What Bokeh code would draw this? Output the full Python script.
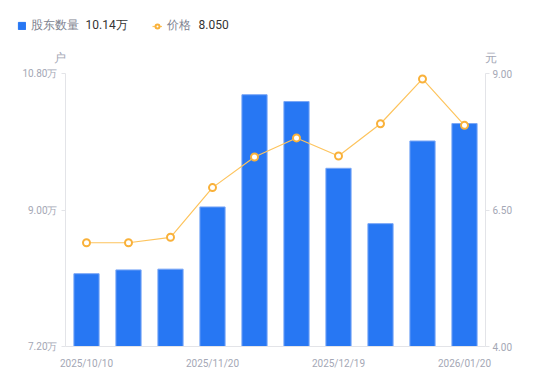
from bokeh.plotting import figure
from bokeh.layouts import column
from bokeh.models import (Range1d, LinearAxis, FixedTicker, PrintfTickFormatter,
                          Legend, LegendItem, Label, ColumnDataSource)
from bokeh.embed import file_html
from bokeh.resources import INLINE

# ---- data ----
dates = ["2025/10/10", "2025/10/20", "2025/10/31", "2025/11/20", "2025/11/28",
         "2025/12/10", "2025/12/19", "2025/12/31", "2026/01/09", "2026/01/20"]
holders = [8.16, 8.21, 8.22, 9.04, 10.52, 10.43, 9.55, 8.82, 9.91, 10.14]   # 万户
price = [5.90, 5.90, 6.00, 6.91, 7.47, 7.82, 7.49, 8.08, 8.90, 8.05]        # 元
tick_idx = [0, 3, 6, 9]
left_ticks = [7.2, 9.0, 10.8]
right_ticks = [4.0, 6.5, 9.0]
holders_name = "股东数量"
price_name = "价格"
holders_last = "10.14万"
price_last = "8.050"
left_unit = "户"
right_unit = "元"

FONT = "Roboto"
AX_COLOR = "#e3e4e8"
LBL_COLOR = "#a4a7b5"
BAR_FILL = "#2777f3"
BAR_LINE = "#79a6f6"
LINE_COLOR = "#fdc45e"
PT_COLOR = "#f9b13a"

W = 550
TOP_H = 65

# ---------------- header strip (legend + unit labels) ----------------
top = figure(width=W, height=TOP_H, output_backend="svg", toolbar_location=None,
             x_range=Range1d(0, 1), y_range=Range1d(0, 1),
             min_border=0, x_axis_location=None, y_axis_location=None)
top.frame_align = False
top.outline_line_color = None
top.xgrid.visible = False
top.ygrid.visible = False

# legend swatch renderers: one point placed far outside the header's visible range
far = ColumnDataSource(dict(x=[100], y=[100]))
lg_bar = top.vbar(x="x", top="y", width=0.1, source=far,
                  fill_color=BAR_FILL, line_color=BAR_FILL)
lg_line = top.line(x="x", y="y", source=far, line_color=LINE_COLOR, line_width=1.2)
lg_pt = top.scatter(x="x", y="y", source=far, size=7, marker="circle",
                    fill_color="white", line_color=PT_COLOR, line_width=2)

def mk_legend(item, loc, gw, gh):
    return Legend(items=[item], location=loc, orientation="horizontal",
                  glyph_width=gw, glyph_height=gh, label_standoff=5,
                  padding=0, margin=0, border_line_color=None, background_fill_alpha=0,
                  label_text_font=FONT, label_text_font_size="12px",
                  label_text_color="#80838f", label_height=14, label_width=10)

top.add_layout(mk_legend(LegendItem(label=holders_name, renderers=[lg_bar], index=0), (17, 31), 9, 9))
top.add_layout(mk_legend(LegendItem(label=price_name, renderers=[lg_line, lg_pt], index=0), (152, 31), 10, 10))

for txt, x in ((holders_last, 85), (price_last, 198)):
    top.add_layout(Label(x=x, y=TOP_H - 24, x_units="screen", y_units="screen", text=txt,
                         text_align="left", text_baseline="middle", text_font=FONT,
                         text_font_size="12px", text_color="#333333"))
for txt, x in ((left_unit, 59), (right_unit, 490)):
    top.add_layout(Label(x=x, y=TOP_H - 57, x_units="screen", y_units="screen", text=txt,
                         text_align="center", text_baseline="middle", text_font=FONT,
                         text_font_size="12px", text_color=LBL_COLOR))

# ---------------- main chart ----------------
xs = list(range(len(dates)))
src = ColumnDataSource(dict(x=xs, holders=holders, price=price))

p = figure(width=W, height=381 - TOP_H, output_backend="svg", toolbar_location=None,
           x_range=Range1d(-0.5, len(dates) - 0.5), y_range=Range1d(left_ticks[0], left_ticks[-1]),
           min_border_left=65, min_border_right=65, min_border_top=8, min_border_bottom=35,
           x_axis_location=None, y_axis_location=None)
p.frame_align = False
p.outline_line_color = None
p.xgrid.visible = False
p.ygrid.visible = False
p.extra_y_ranges = {"price": Range1d(right_ticks[0], right_ticks[-1])}

p.vbar(x="x", top="holders", bottom=left_ticks[0], width=0.6, source=src,
       fill_color=BAR_FILL, line_color=BAR_LINE, line_width=1)
p.line(x="x", y="price", source=src, y_range_name="price",
       line_color=LINE_COLOR, line_width=1.2)
p.scatter(x="x", y="price", source=src, y_range_name="price", size=7,
          marker="circle", fill_color="white", line_color=PT_COLOR, line_width=2)

def style(ax):
    ax.axis_line_color = AX_COLOR
    ax.major_tick_line_color = AX_COLOR
    ax.minor_tick_line_color = None
    ax.major_label_text_color = LBL_COLOR
    ax.major_label_text_font = FONT
    ax.major_label_text_font_size = "10px"

xaxis = LinearAxis(ticker=FixedTicker(ticks=tick_idx),
                   major_label_overrides={i: dates[i] for i in tick_idx})
style(xaxis)
xaxis.major_tick_line_color = None
xaxis.major_label_standoff = 5
p.add_layout(xaxis, "below")

laxis = LinearAxis(ticker=FixedTicker(ticks=left_ticks),
                   formatter=PrintfTickFormatter(format="%.2f万"))
style(laxis)
laxis.major_tick_out = 4
laxis.major_tick_in = 0
laxis.major_label_standoff = 4
p.add_layout(laxis, "left")

raxis = LinearAxis(y_range_name="price", ticker=FixedTicker(ticks=right_ticks),
                   formatter=PrintfTickFormatter(format="%.2f"))
style(raxis)
raxis.major_tick_out = 4
raxis.major_tick_in = 0
raxis.major_label_standoff = 3
p.add_layout(raxis, "right")

layout = column(top, p, spacing=0)
open("out.html", "w").write(file_html(layout, INLINE))
